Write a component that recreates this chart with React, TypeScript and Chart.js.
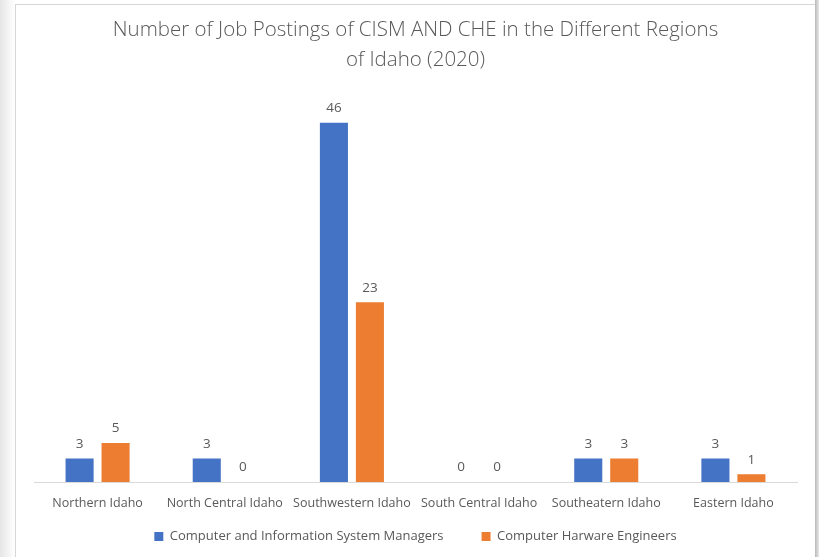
import React, { useEffect, useRef } from "react";
import { Chart, registerables } from "chart.js";

Chart.register(...registerables);

const categories = [
  "Northern Idaho",
  "North Central Idaho",
  "Southwestern Idaho",
  "South Central Idaho",
  "Southeatern Idaho",
  "Eastern Idaho",
];
const cismValues = [3, 3, 46, 0, 3, 3];
const cheValues = [5, 0, 23, 0, 3, 1];
const seriesNames = [
  "Computer and Information System Managers",
  "Computer Harware Engineers",
];
const seriesColors = ["#4472C4", "#ED7D31"];
const titleLines = [
  "Number of Job Postings of CISM AND CHE in the Different Regions",
  "of Idaho (2020)",
];
const yMin = 0;
const yMax = 50;

const FONT = "'Open Sans', 'DejaVu Sans', sans-serif";
const TEXT = "#595959";

const valueLabels = {
  id: "valueLabels",
  afterDatasetsDraw(chart: any) {
    const ctx = chart.ctx;
    ctx.save();
    ctx.font = `13.5px ${FONT}`;
    ctx.fillStyle = TEXT;
    ctx.textAlign = "center";
    ctx.textBaseline = "middle";
    chart.data.datasets.forEach((ds: any, i: number) => {
      const meta = chart.getDatasetMeta(i);
      meta.data.forEach((el: any, j: number) => {
        ctx.fillText(String(ds.data[j]), el.x, el.y - 14.5);
      });
    });
    ctx.restore();
  },
};

// the legend's top padding overlaps the category axis; widen the axis clip box so its labels show
const axisLabelRoom = {
  id: "axisLabelRoom",
  afterLayout(chart: any) {
    const x = chart.scales.x;
    x.bottom = x.top + 34;
    x.height = 34;
  },
};

export default function App() {
  const ref = useRef<HTMLCanvasElement | null>(null);

  useEffect(() => {
    if (!ref.current) return;
    const chart = new Chart(ref.current, {
      type: "bar",
      data: {
        labels: categories,
        datasets: [
          {
            label: seriesNames[0],
            data: cismValues,
            backgroundColor: seriesColors[0],
            categoryPercentage: 0.566,
            barPercentage: 0.78,
          },
          {
            label: seriesNames[1],
            data: cheValues,
            backgroundColor: seriesColors[1],
            categoryPercentage: 0.566,
            barPercentage: 0.78,
          },
        ],
      },
      options: {
        responsive: false,
        animation: false,
        layout: { padding: { left: 34, right: 22, top: 0, bottom: 4 } },
        scales: {
          x: {
            grid: { display: false },
            border: { display: true, color: "#D9D9D9", width: 1 },
            ticks: {
              color: TEXT,
              font: { family: FONT, size: 12.5 },
              padding: 6,
              maxRotation: 0,
              autoSkip: false,
            },
            afterFit: (scale: any) => {
              scale.height = 10;
            },
          },
          y: {
            display: false,
            min: yMin,
            max: yMax,
          },
        },
        plugins: {
          title: {
            display: true,
            text: titleLines,
            color: TEXT,
            font: { family: FONT, size: 20.5, weight: "300" as any, lineHeight: "30px" as any },
            padding: { top: 15, bottom: 16.5 },
          },
          legend: {
            position: "bottom",
            labels: {
              color: TEXT,
              font: { family: FONT, size: 13 },
              boxWidth: 9,
              boxHeight: 9,
              padding: 38,
            },
          },
          tooltip: { enabled: false },
        },
      },
      plugins: [valueLabels, axisLabelRoom],
    });
    return () => chart.destroy();
  }, []);

  return (
    <div
      style={{
        position: "fixed",
        left: 0,
        top: 0,
        width: 819,
        height: 557,
        background: "#ffffff",
        overflow: "hidden",
      }}
    >
      <div
        style={{
          position: "absolute",
          left: 0,
          top: 0,
          width: 15,
          height: 557,
          background: "linear-gradient(to right, #e6e6e6, #ffffff)",
        }}
      />
      <div
        style={{
          position: "absolute",
          left: 815,
          top: 0,
          width: 4,
          height: 557,
          background: "linear-gradient(to right, #b8b8b8, #e8e8e8)",
        }}
      />
      <div
        style={{
          position: "absolute",
          left: 15,
          top: 4,
          width: 799,
          height: 600,
          background: "#ffffff",
          borderLeft: "1px solid #d6d6d6",
          borderTop: "1px solid #d6d6d6",
        }}
      />
      <canvas
        ref={ref}
        width={819}
        height={557}
        style={{ position: "absolute", left: 0, top: 0, width: 819, height: 557 }}
      />
    </div>
  );
}
